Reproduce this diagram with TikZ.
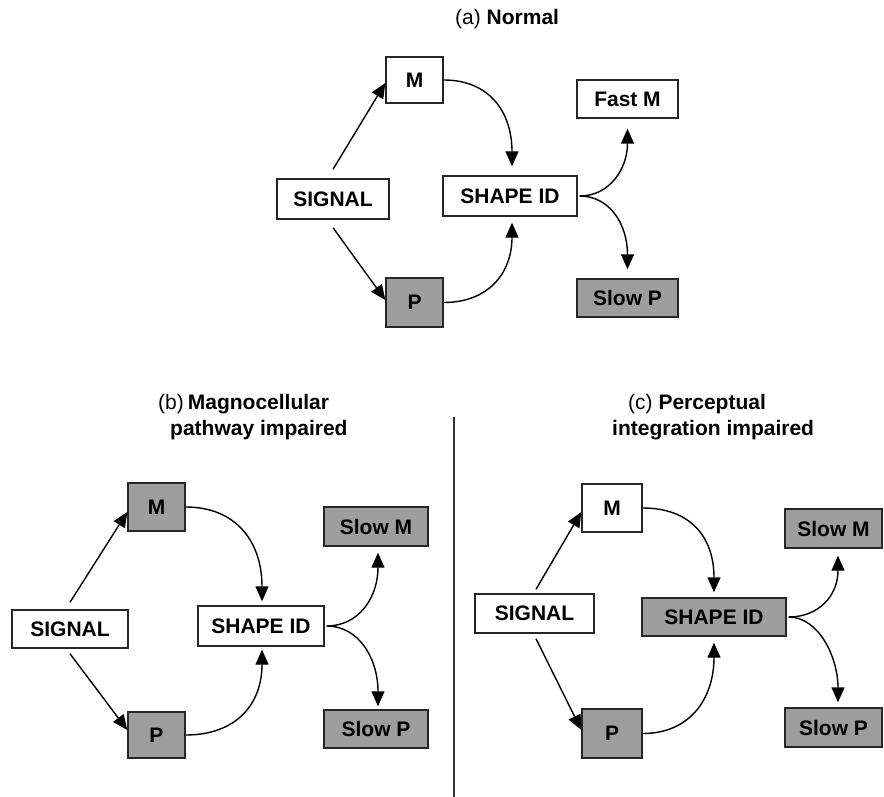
\documentclass[tikz,border=0pt]{standalone}
\usepackage{fontspec}
\setmainfont{Liberation Sans}
\usetikzlibrary{arrows.meta}
\definecolor{boxgray}{RGB}{158,158,158}
\begin{document}
\begin{tikzpicture}[x=1pt,y=-1pt,
  box/.style={draw=black!85, line width=1.4pt, fill=white, inner sep=0pt, font=\fontsize{21}{24}\selectfont\bfseries},
  gbox/.style={box, fill=boxgray},
  arr/.style={line width=1.4pt, -{Triangle[length=15pt,width=13pt]}},
  ttl/.style={font=\fontsize{21}{24}\selectfont, anchor=base west, inner sep=0pt}]
\useasboundingbox (0,0) rectangle (884,797);

% ---------- (a) Normal ----------
\node[ttl] (ta) at (455,25) {(a) \textbf{Normal}};
\node[box,  minimum width=57pt,  minimum height=46pt] (ma)  at (414.5,80)  {M};
\node[box,  minimum width=112pt, minimum height=40pt] (sa)  at (333,199)   {SIGNAL};
\node[box,  minimum width=134pt, minimum height=40pt] (sha) at (510,196)   {SHAPE ID};
\node[gbox, minimum width=57pt,  minimum height=49pt] (pa)  at (414.5,302.5) {P};
\node[box,  minimum width=101pt, minimum height=38pt] (fma) at (627.5,99)  {Fast M};
\node[gbox, minimum width=101pt, minimum height=38pt] (spa) at (627.5,298) {Slow P};
\draw[arr] ([yshift=9pt]sa.north) -- ([yshift=-3pt]ma.west);
\draw[arr] ([yshift=-8pt]sa.south) -- ([yshift=2.5pt]pa.west);
\draw[arr] (ma.east) .. controls +(45,0) and +(0,-55) .. ([xshift=2pt,yshift=9pt]sha.north);
\draw[arr] (pa.east) .. controls +(45,0) and +(0,50) .. ([xshift=2pt,yshift=-6pt]sha.south);
\draw[arr] ([xshift=2pt]sha.east) .. controls +(30,0) and +(0,40) .. ([yshift=-10pt]fma.south);
\draw[arr] ([xshift=2pt]sha.east) .. controls +(30,0) and +(0,-45) .. ([yshift=9pt]spa.north);

% ---------- (b) Magnocellular pathway impaired ----------
\node[ttl] (tb1) at (158,409) {(b)\hspace{4pt}\textbf{Magnocellular}};
\node[ttl] (tb2) at (170,435) {\textbf{pathway impaired}};
\node[gbox, minimum width=57pt,  minimum height=48pt] (mb)  at (156.5,507) {M};
\node[box,  minimum width=116pt, minimum height=38pt] (sb)  at (70,629)    {SIGNAL};
\node[box,  minimum width=126pt, minimum height=40pt] (shb) at (261,626)   {SHAPE ID};
\node[gbox, minimum width=57pt,  minimum height=46pt] (pb)  at (156.5,735) {P};
\node[gbox, minimum width=104pt, minimum height=39pt] (smb) at (376,526.5) {Slow M};
\node[gbox, minimum width=104pt, minimum height=38pt] (spb) at (376,729)   {Slow P};
\draw[arr] ([yshift=7pt]sb.north) -- ([yshift=-5pt]mb.west);
\draw[arr] ([yshift=-5pt]sb.south) -- ([yshift=5pt]pb.west);
\draw[arr] (mb.east) .. controls +(50,0) and +(0,-60) .. ([xshift=1pt,yshift=4pt]shb.north);
\draw[arr] (pb.east) .. controls +(50,0) and +(0,55) .. ([xshift=1pt,yshift=-3pt]shb.south);
\draw[arr] ([xshift=2pt]shb.east) .. controls +(32,0) and +(0,45) .. ([xshift=2pt,yshift=-6pt]smb.south);
\draw[arr] ([xshift=2pt]shb.east) .. controls +(32,0) and +(0,-48) .. ([xshift=2pt,yshift=3pt]spb.north);

% ---------- divider ----------
\coordinate (dtop) at (454,417);
\coordinate (dbot) at (454,797);
\draw[line width=1.4pt, black!80] (dtop) -- (dbot);

% ---------- (c) Perceptual integration impaired ----------
\node[ttl] (tc1) at (628,409) {(c) \textbf{Perceptual}};
\node[ttl] (tc2) at (612,435) {\textbf{integration impaired}};
\node[box,  minimum width=60pt,  minimum height=48pt] (mc)  at (612,508)   {M};
\node[box,  minimum width=119pt, minimum height=39pt] (sc)  at (534.5,613.5) {SIGNAL};
\node[gbox, minimum width=144pt, minimum height=38pt] (shc) at (714,617)   {SHAPE ID};
\node[gbox, minimum width=60pt,  minimum height=49pt] (pc)  at (612,733.5) {P};
\node[gbox, minimum width=97pt,  minimum height=39pt] (smc) at (833.5,528.5) {Slow M};
\node[gbox, minimum width=97pt,  minimum height=39pt] (spc) at (833.5,727.5) {Slow P};
\draw[arr] ([xshift=1.5pt,yshift=4pt]sc.north) -- ([yshift=-4pt]mc.west);
\draw[arr] ([xshift=1.5pt,yshift=-5pt]sc.south) -- ([yshift=3.5pt]pc.west);
\draw[arr] (mc.east) .. controls +(48,0) and +(0,-55) .. ([yshift=5pt]shc.north);
\draw[arr] (pc.east) .. controls +(48,0) and +(0,55) .. ([yshift=-6pt]shc.south);
\draw[arr] ([xshift=2pt]shc.east) .. controls +(30,0) and +(0,40) .. ([xshift=4.5pt,yshift=-7pt]smc.south);
\draw[arr] ([xshift=2pt]shc.east) .. controls +(30,0) and +(0,-45) .. ([xshift=4.5pt,yshift=5pt]spc.north);
\end{tikzpicture}
\end{document}
